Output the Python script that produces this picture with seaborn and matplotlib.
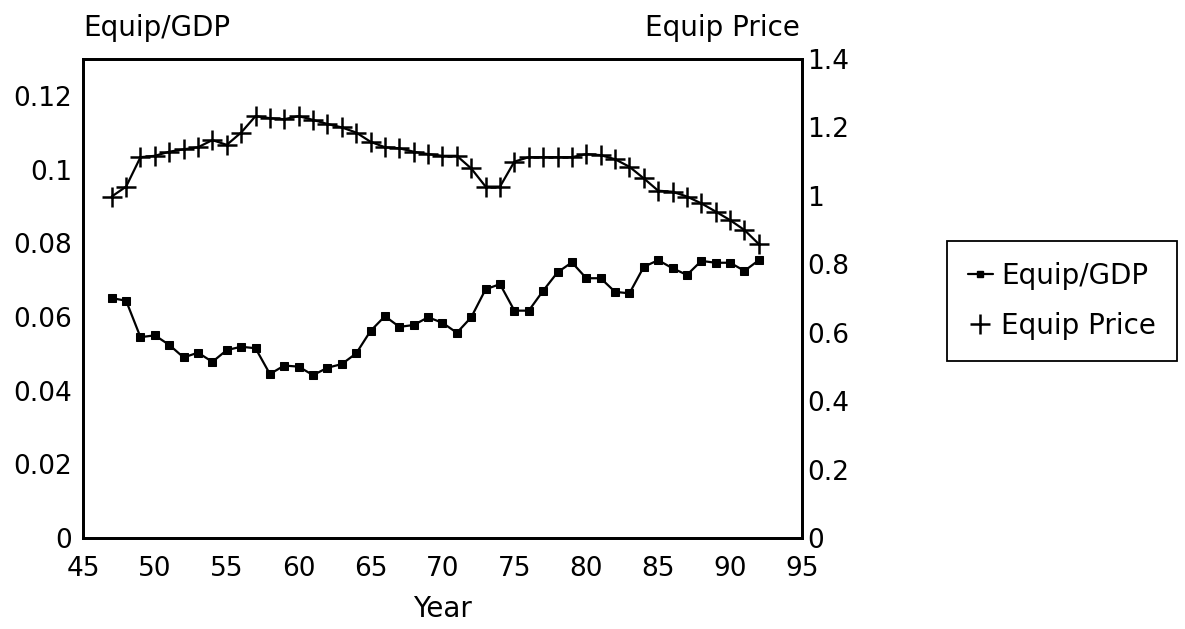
import seaborn as sns
import matplotlib.pyplot as plt
from matplotlib.lines import Line2D

years = list(range(47, 93))
equip_gdp = [0.0651, 0.0644, 0.0545, 0.0550, 0.0524, 0.0490, 0.0503, 0.0478, 0.0510, 0.0519,
             0.0515, 0.0445, 0.0468, 0.0465, 0.0442, 0.0462, 0.0472, 0.0501, 0.0562, 0.0602,
             0.0573, 0.0578, 0.0599, 0.0584, 0.0557, 0.0599, 0.0675, 0.0689, 0.0617, 0.0617,
             0.0671, 0.0721, 0.0748, 0.0705, 0.0705, 0.0668, 0.0664, 0.0736, 0.0754, 0.0732,
             0.0714, 0.0752, 0.0747, 0.0747, 0.0725, 0.0754]
equip_price = [0.998, 1.027, 1.113, 1.117, 1.129, 1.136, 1.142, 1.163, 1.149, 1.185,
               1.233, 1.227, 1.224, 1.233, 1.222, 1.210, 1.200, 1.185, 1.158, 1.142,
               1.139, 1.129, 1.122, 1.117, 1.117, 1.080, 1.027, 1.027, 1.100, 1.113,
               1.113, 1.113, 1.113, 1.122, 1.119, 1.107, 1.085, 1.051, 1.015, 1.012,
               0.998, 0.978, 0.954, 0.929, 0.900, 0.859]

x_ticks = list(range(45, 100, 5))
left_ticks = [0, 0.02, 0.04, 0.06, 0.08, 0.1, 0.12]
left_labels = ['0', '0.02', '0.04', '0.06', '0.08', '0.1', '0.12']
right_ticks = [0, 0.2, 0.4, 0.6, 0.8, 1.0, 1.2, 1.4]
right_labels = ['0', '0.2', '0.4', '0.6', '0.8', '1', '1.2', '1.4']

sns.set_style("white")
plt.rcParams['font.family'] = ['DejaVu Sans']
plt.rcParams['font.size'] = 19
plt.rcParams['text.color'] = 'black'
plt.rcParams['axes.labelcolor'] = 'black'
plt.rcParams['xtick.color'] = 'black'
plt.rcParams['ytick.color'] = 'black'

fig = plt.figure(figsize=(11.85, 6.29), dpi=100)
# axes box: x 83..802 px, y 59..538 px
ax = fig.add_axes([0.070, 0.1447, 0.6068, 0.7615])
ax2 = ax.twinx()

sns.lineplot(x=years, y=equip_gdp, ax=ax, color='black', marker='s', markersize=5.5,
             markeredgecolor='black', linewidth=1.6)
sns.lineplot(x=years, y=equip_price, ax=ax2, color='black', marker='+', markersize=15,
             markeredgecolor='black', markeredgewidth=1.8, linewidth=1.6)

ax.set_xlim(45, 95)
ax.set_ylim(0, 0.13)
ax2.set_ylim(0, 1.4)
ax.set_xticks(x_ticks)
ax.set_yticks(left_ticks)
ax.set_yticklabels(left_labels)
ax2.set_yticks(right_ticks)
ax2.set_yticklabels(right_labels)

ax.tick_params(axis='x', length=0, pad=13, labelsize=19, labelcolor='black')
ax.tick_params(axis='y', length=0, pad=8, labelsize=19, labelcolor='black')
ax2.tick_params(axis='y', length=0, pad=4, labelsize=19, labelcolor='black')

for a in (ax, ax2):
    for s in a.spines.values():
        s.set_visible(True)
        s.set_color('black')
        s.set_linewidth(2)

ax.set_xlabel('Year', fontsize=20, labelpad=9, color='black')
ax.set_ylabel('')
ax2.set_ylabel('')
fig.text(0.070, 0.955, 'Equip/GDP', fontsize=20, ha='left', va='center', color='black')
fig.text(0.675, 0.955, 'Equip Price', fontsize=20, ha='right', va='center', color='black')

handles = [Line2D([], [], color='black', marker='s', markersize=4, linewidth=1.6),
           Line2D([], [], color='black', marker='+', markersize=15, markeredgewidth=1.8, linewidth=0)]
leg = fig.legend(handles, ['Equip/GDP', 'Equip Price'], loc='upper left',
                 bbox_to_anchor=(0.799, 0.617), borderaxespad=0, frameon=True, fancybox=False,
                 edgecolor='black', framealpha=1, fontsize=20, handlelength=0.9,
                 handletextpad=0.3, borderpad=0.75, labelspacing=0.8)
leg.get_frame().set_linewidth(1.3)
for t in leg.get_texts():
    t.set_color('black')

fig.savefig('out.png', dpi=100)
